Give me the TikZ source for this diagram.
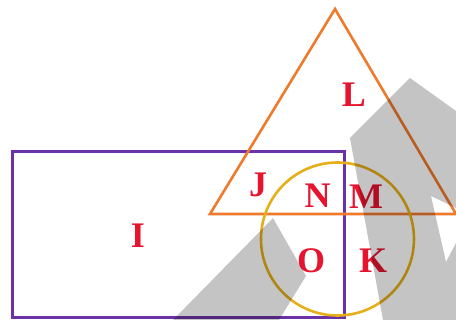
\documentclass[tikz,border=0pt]{standalone}
\usepackage{fontspec}
\setmainfont{Liberation Serif}
\definecolor{setpurple}{HTML}{6A32A6}
\definecolor{setorange}{HTML}{F07A2C}
\definecolor{setgold}{HTML}{E6AE18}
\definecolor{labelred}{HTML}{E6142E}
\tikzset{
  rectset/.style = {draw=setpurple, line width=3pt},
  triset/.style = {draw=setorange, line width=2.6pt, line join=miter},
  circset/.style = {draw=setgold, line width=2.6pt},
  region/.style = {text=labelred, anchor=base, inner sep=0pt, font=\fontsize{36}{40}\selectfont\bfseries},
  watermark/.style = {fill=black, fill opacity=0.23, draw=none}
}

\begin{document}
\begin{tikzpicture}[x=1pt, y=-1pt]
\useasboundingbox (0,0) rectangle (456,320);

% Sets
\draw[rectset] (12,152) rectangle (344,318);
\draw[triset] (335,9) -- (456,214) -- (210,214) -- cycle;
\draw[circset] (337.5,239) circle (76.5);

% Region labels
\node[region] (i) at (138,248) {I};
\node[region] (j) at (258,197) {J};
\node[region] (l) at (354,107) {L};
\node[region] (n) at (317.5,208) {N};
\node[region] (m) at (366,209) {M};
\node[region] (o) at (311,273) {O};
\node[region] (k) at (373,273) {K};

% Grey marks
\fill[watermark] (173,320) -- (273,218) -- (306,276) -- (279,320) -- cycle;
\fill[watermark] (410,78) -- (456,111) -- (456,208) -- (431,196) -- (446,262)
  -- (456,243) -- (456,320) -- (383,320) -- (350,138) -- cycle;

\end{tikzpicture}
\end{document}
